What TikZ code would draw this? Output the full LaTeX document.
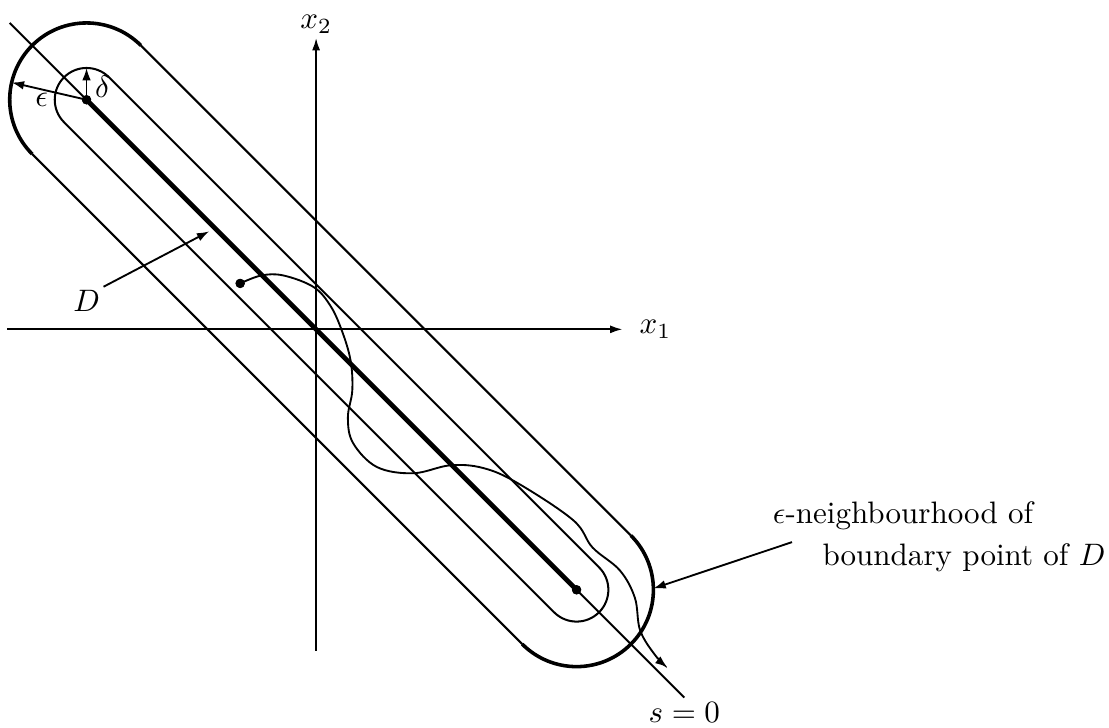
\documentclass[tikz,border=0pt]{standalone}
\usepackage{amsmath,amssymb}
\usepackage{tikz}
\usetikzlibrary{arrows.meta, positioning, calc}

\def\radeps{0.87}
\def\raddel{0.36}

\begin{document}
\begin{tikzpicture}[
    axis/.style={-{Latex[length=4pt, width=2.6pt]}, line width=0.6pt},
    band/.style={line width=0.65pt},
    endcap/.style={line width=1.15pt},
    segment/.style={line width=1.5pt},
    arrow/.style={-{Latex[length=4pt, width=2.8pt]}, line width=0.6pt},
    note/.style={inner sep=1pt},
    dot/.style={circle, fill=black, inner sep=0pt, minimum size=3pt}
]
\useasboundingbox (-3.58,-4.51) rectangle (8.98,3.73);

% end points of D and start of the trajectory
\node[dot] (P1) at (-2.6,2.6) {};
\node[dot] (P2) at (2.95,-2.95) {};
\node[dot] (start) at (-0.86,0.52) {};

% axes
\coordinate (x1start) at (-3.5,0);
\coordinate (x1end) at (3.47,0);
\coordinate (x2start) at (0,-3.64);
\coordinate (x2end) at (0,3.30);
\draw[axis] (x1start) -- (x1end);
\draw[axis] (x2start) -- (x2end);
\node[right=2pt of x1end] (x1lab) {$x_1$};
\node[above=-2pt of x2end] (x2lab) {$x_2$};

% line s = 0
\coordinate (s0a) at (-3.47,3.47);
\coordinate (s0b) at (4.17,-4.17);
\draw[band] (s0a) -- (s0b);
\node[below=-2pt of s0b] (s0lab) {$s=0$};

% epsilon band
\draw[band] ($(P1.center)+(45:\radeps)$) -- ($(P2.center)+(45:\radeps)$);
\draw[band] ($(P1.center)+(225:\radeps)$) -- ($(P2.center)+(225:\radeps)$);
\draw[endcap] ($(P1.center)+(45:\radeps)$) arc[start angle=45, end angle=225, radius=\radeps];
\draw[endcap] ($(P2.center)+(225:\radeps)$) arc[start angle=-135, end angle=45, radius=\radeps];

% delta band
\draw[band] ($(P1.center)+(45:\raddel)$) -- ($(P2.center)+(45:\raddel)$)
    arc[start angle=45, end angle=-135, radius=\raddel]
    -- ($(P1.center)+(225:\raddel)$)
    arc[start angle=225, end angle=45, radius=\raddel];

% the set D
\draw[segment] (P1.center) -- (P2.center);

% radii
\coordinate (epstip) at ($(P1.center)+(167:\radeps)$);
\coordinate (deltip) at ($(P1.center)+(90:\raddel)$);
\draw[arrow] (P1.center) -- (epstip) node[pos=0.6, below, note] (epslab) {$\epsilon$};
\draw[arrow] (P1.center) -- (deltip) node[pos=0.4, right, inner sep=2.5pt] (dellab) {$\delta$};

% label D
\node[note] (Dlab) at (-2.6,0.32) {$D$};
\coordinate (Dtip) at (-1.21,1.11);
\draw[arrow] (Dlab.north east) -- (Dtip);

% trajectory
\draw[arrow] plot[smooth, tension=0.6] coordinates {(-0.86,0.52) (-0.62,0.61) (-0.37,0.61)
    (-0.03,0.48) (0.16,0.27) (0.29,-0.01) (0.39,-0.35) (0.41,-0.69) (0.36,-1.00)
    (0.42,-1.29) (0.69,-1.56) (1.10,-1.63) (1.52,-1.54) (1.89,-1.57) (2.28,-1.74)
    (2.91,-2.16) (3.13,-2.47) (3.44,-2.73) (3.61,-3.04) (3.67,-3.41) (3.84,-3.69)
    (3.98,-3.83)};

% neighbourhood label
\node[anchor=west, align=left] (nblab) at (5.05,-2.35)
    {$\epsilon$-neighbourhood of\\[1.5pt]\hspace*{16pt}boundary point of $D$};
\coordinate (nbtail) at (5.39,-2.41);
\coordinate (nbtip) at ($(P2.center)+(1:\radeps)$);
\draw[arrow] (nbtail) -- (nbtip);

% dots on top
\fill (P1) circle[radius=1.5pt];
\fill (P2) circle[radius=1.5pt];
\fill (start) circle[radius=1.5pt];
\end{tikzpicture}
\end{document}
